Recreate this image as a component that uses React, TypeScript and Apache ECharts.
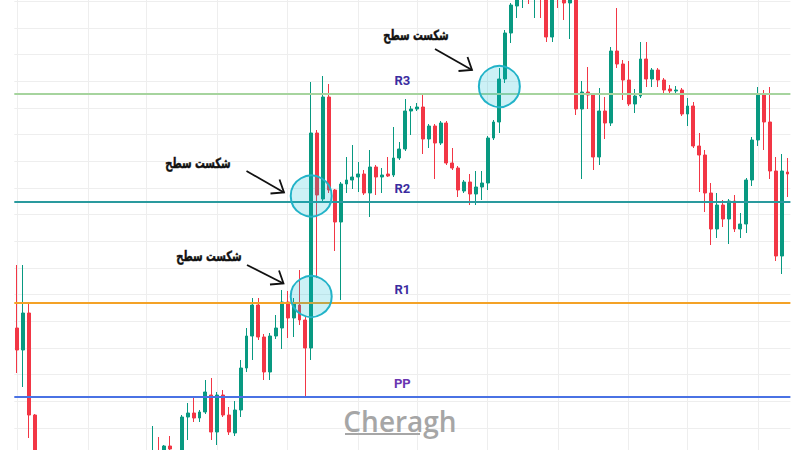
import React, { useEffect, useRef } from 'react';
import * as echarts from 'echarts';

// Candle prices (price units), one entry per candle
const openPrices = [
  2122, 2100, 2137, 2035, 1975, 1950, 1930, 1945, 1920, 1905,
  1925, 1915, 1935, 1950, 1940, 1960, 1955, 1970, 1960, 1975,
  1968, 1980, 1972, 1985, 1992, 1988, 2004, 1998, 1988, 2033,
  2037, 2032, 2038, 2055, 2018, 2055, 2035, 2017, 2040, 2082,
  2114, 2145, 2113, 2078, 2114, 2122, 2148, 2132, 2145, 2130,
  2102, 2317, 2251, 2353, 2260, 2228, 2266, 2270, 2273, 2276,
  2257, 2283, 2273, 2276, 2275, 2292, 2301, 2339, 2341, 2343,
  2311, 2324, 2307, 2327, 2287, 2282, 2259, 2268, 2256, 2263,
  2267, 2312, 2328, 2371, 2417, 2444, 2470, 2480, 2475, 2490,
  2475, 2413, 2475, 2462, 2447, 2465, 2341, 2358, 2355, 2293,
  2339, 2327, 2399, 2386, 2370, 2346, 2354, 2391, 2371, 2380,
  2370, 2361, 2359, 2360, 2336, 2344, 2304, 2295, 2257, 2221,
  2245, 2231, 2249, 2221, 2226, 2270, 2310, 2356, 2328, 2279,
  2194, 2278,
];
const closePrices = [
  2100, 2137, 2035, 1975, 1950, 1930, 1945, 1920, 1905, 1925,
  1915, 1935, 1950, 1940, 1960, 1955, 1970, 1960, 1975, 1968,
  1980, 1972, 1985, 1992, 1988, 2004, 2001, 1988, 2033, 2037,
  2032, 2038, 2058, 2018, 2055, 2035, 2018, 2040, 2082, 2114,
  2145, 2113, 2078, 2114, 2122, 2148, 2132, 2146, 2130, 2102,
  2317, 2255, 2353, 2260, 2228, 2266, 2270, 2273, 2276, 2257,
  2283, 2273, 2275, 2274, 2292, 2301, 2339, 2341, 2343, 2311,
  2324, 2307, 2327, 2287, 2282, 2260, 2268, 2256, 2263, 2267,
  2312, 2328, 2371, 2417, 2445, 2470, 2480, 2475, 2485, 2470,
  2413, 2470, 2460, 2447, 2465, 2341, 2358, 2355, 2293, 2339,
  2327, 2399, 2386, 2370, 2346, 2354, 2391, 2371, 2380, 2370,
  2360, 2359, 2360, 2336, 2344, 2304, 2295, 2257, 2221, 2245,
  2231, 2249, 2221, 2226, 2270, 2310, 2356, 2328, 2279, 2194,
  2279, 2276,
];
const lowPrices = [
  2077, 2063, 2012, 1960, 1940, 1920, 1925, 1910, 1895, 1900,
  1905, 1910, 1930, 1930, 1935, 1945, 1950, 1952, 1955, 1960,
  1962, 1965, 1968, 1978, 1980, 1984, 1996, 1982, 1985, 2010,
  2028, 2028, 2036, 2010, 2005, 2033, 2015, 2014, 2033, 2078,
  2090, 2110, 2070, 2070, 2111, 2101, 2112, 2113, 2125, 2053,
  2090, 2172, 2247, 2257, 2199, 2150, 2257, 2261, 2258, 2255,
  2233, 2255, 2257, 2273, 2273, 2290, 2299, 2315, 2339, 2296,
  2302, 2271, 2305, 2285, 2280, 2253, 2257, 2245, 2245, 2250,
  2260, 2310, 2317, 2367, 2407, 2432, 2442, 2446, 2432, 2432,
  2408, 2408, 2442, 2430, 2411, 2335, 2271, 2341, 2280, 2285,
  2311, 2324, 2382, 2350, 2344, 2337, 2352, 2363, 2363, 2363,
  2357, 2357, 2356, 2334, 2324, 2302, 2258, 2238, 2205, 2212,
  2223, 2206, 2218, 2212, 2217, 2264, 2304, 2300, 2271, 2189,
  2176, 2253,
];
const highPrices = [
  2185, 2185, 2148, 2036, 1985, 1960, 1955, 1950, 1930, 1935,
  1940, 1945, 1960, 1965, 1970, 1975, 1980, 1985, 1988, 1990,
  1992, 1990, 1993, 2024, 2013, 2005, 2014, 1999, 2035, 2047,
  2053, 2040, 2070, 2072, 2058, 2060, 2043, 2049, 2090, 2122,
  2152, 2152, 2116, 2117, 2135, 2160, 2159, 2152, 2180, 2133,
  2368, 2320, 2374, 2366, 2261, 2268, 2293, 2305, 2288, 2280,
  2300, 2285, 2282, 2293, 2323, 2308, 2351, 2344, 2347, 2356,
  2326, 2326, 2329, 2329, 2302, 2284, 2270, 2276, 2279, 2279,
  2314, 2330, 2382, 2420, 2447, 2478, 2490, 2495, 2500, 2505,
  2480, 2480, 2490, 2470, 2470, 2470, 2369, 2383, 2357, 2362,
  2353, 2403, 2442, 2390, 2389, 2361, 2408, 2408, 2382, 2382,
  2372, 2365, 2364, 2362, 2352, 2348, 2317, 2300, 2267, 2257,
  2250, 2251, 2255, 2237, 2272, 2313, 2363, 2360, 2363, 2293,
  2296, 2292,
];
const candleLabels = openPrices.map((_, i) => `#${i + 1}`);

// Pivot levels
const levelNames = ['R3', 'R2', 'R1', 'PP'];
const levelValues = [2356, 2248, 2147.3, 2053.3];
const levelColors = ['#a6d49e', '#2a9a9e', '#f4a226', '#4a72e4'];
const levelLabelColors = ['#3b2ca0', '#3b2ca0', '#3b2ca0', '#6a36b0'];

// Breakout circles: [candle index, price]
const breakoutPoints = [
  [50, 2153.5],
  [50, 2254],
  [82, 2363.5],
];

// Candles where the time grid lines fall
const timeGridCandles = [0, 12, 22, 34, 46, 58, 68, 80, 92, 104, 114, 126];

const noteText = 'شکست سطح';

const UP = '#089981';
const DOWN = '#f23645';

// The chart canvas is taller than the visible window; this is how far it starts above it
const TOP_OVERFLOW = 106;
const CANVAS_HEIGHT = 694;

export default function App() {
  const ref = useRef<HTMLDivElement>(null);

  useEffect(() => {
    if (!ref.current) return;
    const chart = echarts.init(ref.current, undefined, { renderer: 'svg' });

    const candleData = openPrices.map((o, i) => [o, closePrices[i], lowPrices[i], highPrices[i]]);

    const oy = TOP_OVERFLOW;
    const arrows = [
      { tail: [247, 265], tip: [283.5, 283.5] },
      { tail: [246.5, 171], tip: [284, 192.5] },
      { tail: [435, 49], tip: [472, 70] },
    ];
    const notes = [
      [209, 256],
      [198, 163],
      [416, 35],
    ];

    const graphic: any[] = [];
    arrows.forEach((a) => {
      graphic.push({
        type: 'line',
        z: 20,
        shape: { x1: a.tail[0], y1: a.tail[1] + oy, x2: a.tip[0], y2: a.tip[1] + oy },
        style: { stroke: '#111', lineWidth: 1.8 },
      });
      graphic.push({
        type: 'polyline',
        z: 20,
        shape: {
          points: [
            [a.tip[0] - 4.5, a.tip[1] - 13 + oy],
            [a.tip[0], a.tip[1] + oy],
            [a.tip[0] - 13.5, a.tip[1] + 1 + oy],
          ],
        },
        style: { stroke: '#111', lineWidth: 1.8, fill: null },
      });
    });
    notes.forEach((n) => {
      graphic.push({
        type: 'text',
        z: 20,
        x: n[0],
        y: n[1] + oy,
        scaleX: 0.7,
        style: {
          text: noteText,
          fontSize: 14,
          fontWeight: 'bold',
          fontFamily: 'DejaVu Sans',
          fill: '#111',
          stroke: '#111',
          lineWidth: 0.5,
          align: 'center',
          verticalAlign: 'middle',
          textAlign: 'center',
          textVerticalAlign: 'middle',
        },
      });
    });
    graphic.push({
      type: 'text',
      z: 1,
      x: 400,
      y: 421 + oy,
      style: {
        text: 'Cheragh',
        fontSize: 28,
        fontWeight: 600,
        fontFamily: 'Open Sans',
        fill: '#a6a6a6',
        align: 'center',
        verticalAlign: 'middle',
        textAlign: 'center',
        textVerticalAlign: 'middle',
      },
    });
    graphic.push({
      type: 'line',
      z: 1,
      shape: { x1: 345, y1: 434 + oy, x2: 420, y2: 434 + oy },
      style: { stroke: '#a6a6a6', lineWidth: 2 },
    });

    chart.setOption({
      animation: false,
      backgroundColor: '#ffffff',
      grid: { left: 14.3, right: 9.6, top: 0, bottom: 0 },
      xAxis: {
        type: 'category',
        data: candleLabels,
        boundaryGap: true,
        axisLine: { show: false },
        axisTick: { show: false },
        axisLabel: { show: false },
        splitLine: { show: false },
      },
      yAxis: {
        type: 'value',
        min: 1862,
        max: 2556,
        interval: 80 / 3,
        axisLine: { show: false },
        axisTick: { show: false },
        axisLabel: { show: false },
        splitLine: { show: true, lineStyle: { color: '#eeeeee', width: 1 } },
      },
      series: [
        {
          type: 'line',
          data: [],
          silent: true,
          z: 0,
          markLine: {
            z: 0,
            silent: true,
            symbol: ['none', 'none'],
            label: { show: false },
            lineStyle: { color: '#eeeeee', width: 1, type: 'solid' },
            data: timeGridCandles.map((i) => ({ xAxis: i })),
          },
        },
        {
          type: 'candlestick',
          z: 3,
          data: candleData,
          barWidth: 3.4,
          itemStyle: {
            color: UP,
            color0: DOWN,
            borderColor: UP,
            borderColor0: DOWN,
            borderWidth: 1,
          },
          markLine: {
            silent: true,
            symbol: ['none', 'none'],
            data: levelNames.map((name, i) => ({
              yAxis: levelValues[i],
              lineStyle: { color: levelColors[i], width: 2, type: 'solid' },
              label: {
                show: true,
                formatter: name,
                position: 'insideMiddleTop',
                distance: 7,
                color: levelLabelColors[i],
                fontSize: 13,
                fontWeight: 'bold',
                fontFamily: 'Roboto',
              },
            })),
          },
          markPoint: {
            silent: true,
            symbol: 'circle',
            symbolSize: 41,
            label: { show: false },
            itemStyle: {
              color: 'rgba(0, 184, 212, 0.2)',
              borderColor: '#22b3c8',
              borderWidth: 2,
            },
            data: breakoutPoints.map((p) => ({ coord: p })),
          },
        },
      ],
      graphic,
    });

    return () => chart.dispose();
  }, []);

  return (
    <div
      ref={ref}
      style={{
        position: 'fixed',
        left: 0,
        top: -TOP_OVERFLOW,
        width: 800,
        height: CANVAS_HEIGHT,
        background: '#fff',
      }}
    />
  );
}
